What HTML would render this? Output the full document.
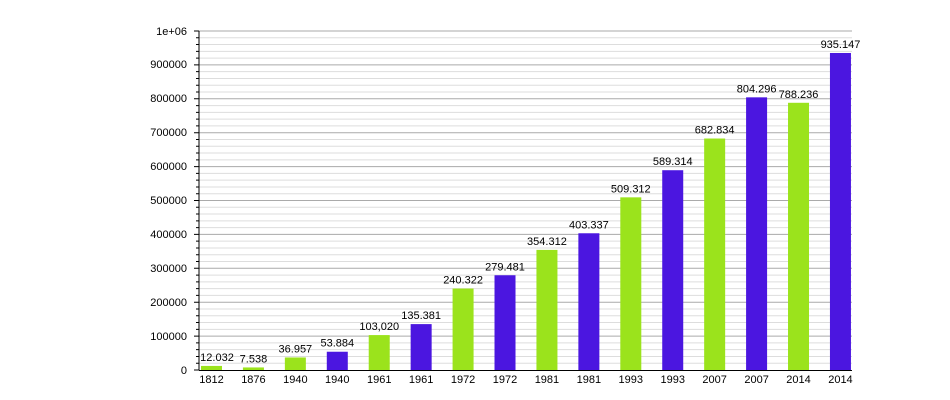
<!DOCTYPE html>
<html><head><style>body{margin:0;background:#fff}svg{display:block;font-family:"Liberation Sans",sans-serif}</style></head><body>
<svg width="950" height="400" viewBox="0 0 950 400" font-size="11">
<path stroke="#ddd" fill="none" d="M199 363.22H852M199 356.44H852M199 349.66H852M199 342.88H852M199 329.32H852M199 322.54H852M199 315.76H852M199 308.98H852M199 295.42H852M199 288.64H852M199 281.86H852M199 275.08H852M199 261.52H852M199 254.74H852M199 247.96H852M199 241.18H852M199 227.62H852M199 220.84H852M199 214.06H852M199 207.28H852M199 193.72H852M199 186.94H852M199 180.16H852M199 173.38H852M199 159.82H852M199 153.04H852M199 146.26H852M199 139.48H852M199 125.92H852M199 119.14H852M199 112.36H852M199 105.58H852M199 92.02H852M199 85.24H852M199 78.46H852M199 71.68H852M199 58.12H852M199 51.34H852M199 44.56H852M199 37.78H852"/>
<path stroke="#aaa" fill="none" d="M199 336.1H852M199 302.2H852M199 268.3H852M199 234.4H852M199 200.5H852M199 166.6H852M199 132.7H852M199 98.8H852M199 64.9H852M199 31H852"/>
<path stroke="#000" fill="none" d="M196 363.22H199M196 356.44H199M196 349.66H199M196 342.88H199M196 329.32H199M196 322.54H199M196 315.76H199M196 308.98H199M196 295.42H199M196 288.64H199M196 281.86H199M196 275.08H199M196 261.52H199M196 254.74H199M196 247.96H199M196 241.18H199M196 227.62H199M196 220.84H199M196 214.06H199M196 207.28H199M196 193.72H199M196 186.94H199M196 180.16H199M196 173.38H199M196 159.82H199M196 153.04H199M196 146.26H199M196 139.48H199M196 125.92H199M196 119.14H199M196 112.36H199M196 105.58H199M196 92.02H199M196 85.24H199M196 78.46H199M196 71.68H199M196 58.12H199M196 51.34H199M196 44.56H199M196 37.78H199M194 370H199M194 336.1H199M194 302.2H199M194 268.3H199M194 234.4H199M194 200.5H199M194 166.6H199M194 132.7H199M194 98.8H199M194 64.9H199M194 31H199M199 31V370.5M199 370.5H852"/>
<g text-anchor="end">
<text x="187" y="374">0</text>
<text x="187" y="340">100000</text>
<text x="187" y="306">200000</text>
<text x="187" y="272">300000</text>
<text x="187" y="238">400000</text>
<text x="187" y="204">500000</text>
<text x="187" y="170">600000</text>
<text x="187" y="136">700000</text>
<text x="187" y="102">800000</text>
<text x="187" y="68">900000</text>
<text x="187" y="35">1e+06</text>
</g>
<g fill="#9be31c">
<rect x="201" y="365.92" width="21" height="4.08"/>
<rect x="242.93" y="367.44" width="21" height="2.56"/>
<rect x="284.86" y="357.47" width="21" height="12.53"/>
<rect x="368.72" y="335.08" width="21" height="34.92"/>
<rect x="452.58" y="288.53" width="21" height="81.47"/>
<rect x="536.44" y="249.89" width="21" height="120.11"/>
<rect x="620.3" y="197.34" width="21" height="172.66"/>
<rect x="704.16" y="138.52" width="21" height="231.48"/>
<rect x="788.02" y="102.79" width="21" height="267.21"/>
</g>
<g fill="#4b16e0">
<rect x="326.79" y="351.73" width="21" height="18.27"/>
<rect x="410.65" y="324.11" width="21" height="45.89"/>
<rect x="494.51" y="275.26" width="21" height="94.74"/>
<rect x="578.37" y="233.27" width="21" height="136.73"/>
<rect x="662.23" y="170.22" width="21" height="199.78"/>
<rect x="746.09" y="97.34" width="21" height="272.66"/>
<rect x="829.95" y="52.98" width="21" height="317.02"/>
</g>
<g text-anchor="middle">
<text x="217" y="360.9">12.032</text>
<text x="253.43" y="362.4">7.538</text>
<text x="295.36" y="352.5">36.957</text>
<text x="337.29" y="346.7">53.884</text>
<text x="379.22" y="330.1">103,020</text>
<text x="421.15" y="319.1">135.381</text>
<text x="463.08" y="283.5">240.322</text>
<text x="505.01" y="270.3">279.481</text>
<text x="546.94" y="244.9">354.312</text>
<text x="588.87" y="228.3">403.337</text>
<text x="630.8" y="192.3">509.312</text>
<text x="672.73" y="165.2">589.314</text>
<text x="714.66" y="133.5">682.834</text>
<text x="756.59" y="92.3">804.296</text>
<text x="798.52" y="97.8">788.236</text>
<text x="840.45" y="48">935.147</text>
<text x="211.5" y="383">1812</text>
<text x="253.43" y="383">1876</text>
<text x="295.36" y="383">1940</text>
<text x="337.29" y="383">1940</text>
<text x="379.22" y="383">1961</text>
<text x="421.15" y="383">1961</text>
<text x="463.08" y="383">1972</text>
<text x="505.01" y="383">1972</text>
<text x="546.94" y="383">1981</text>
<text x="588.87" y="383">1981</text>
<text x="630.8" y="383">1993</text>
<text x="672.73" y="383">1993</text>
<text x="714.66" y="383">2007</text>
<text x="756.59" y="383">2007</text>
<text x="798.52" y="383">2014</text>
<text x="840.45" y="383">2014</text>
</g>
</svg></body></html>
